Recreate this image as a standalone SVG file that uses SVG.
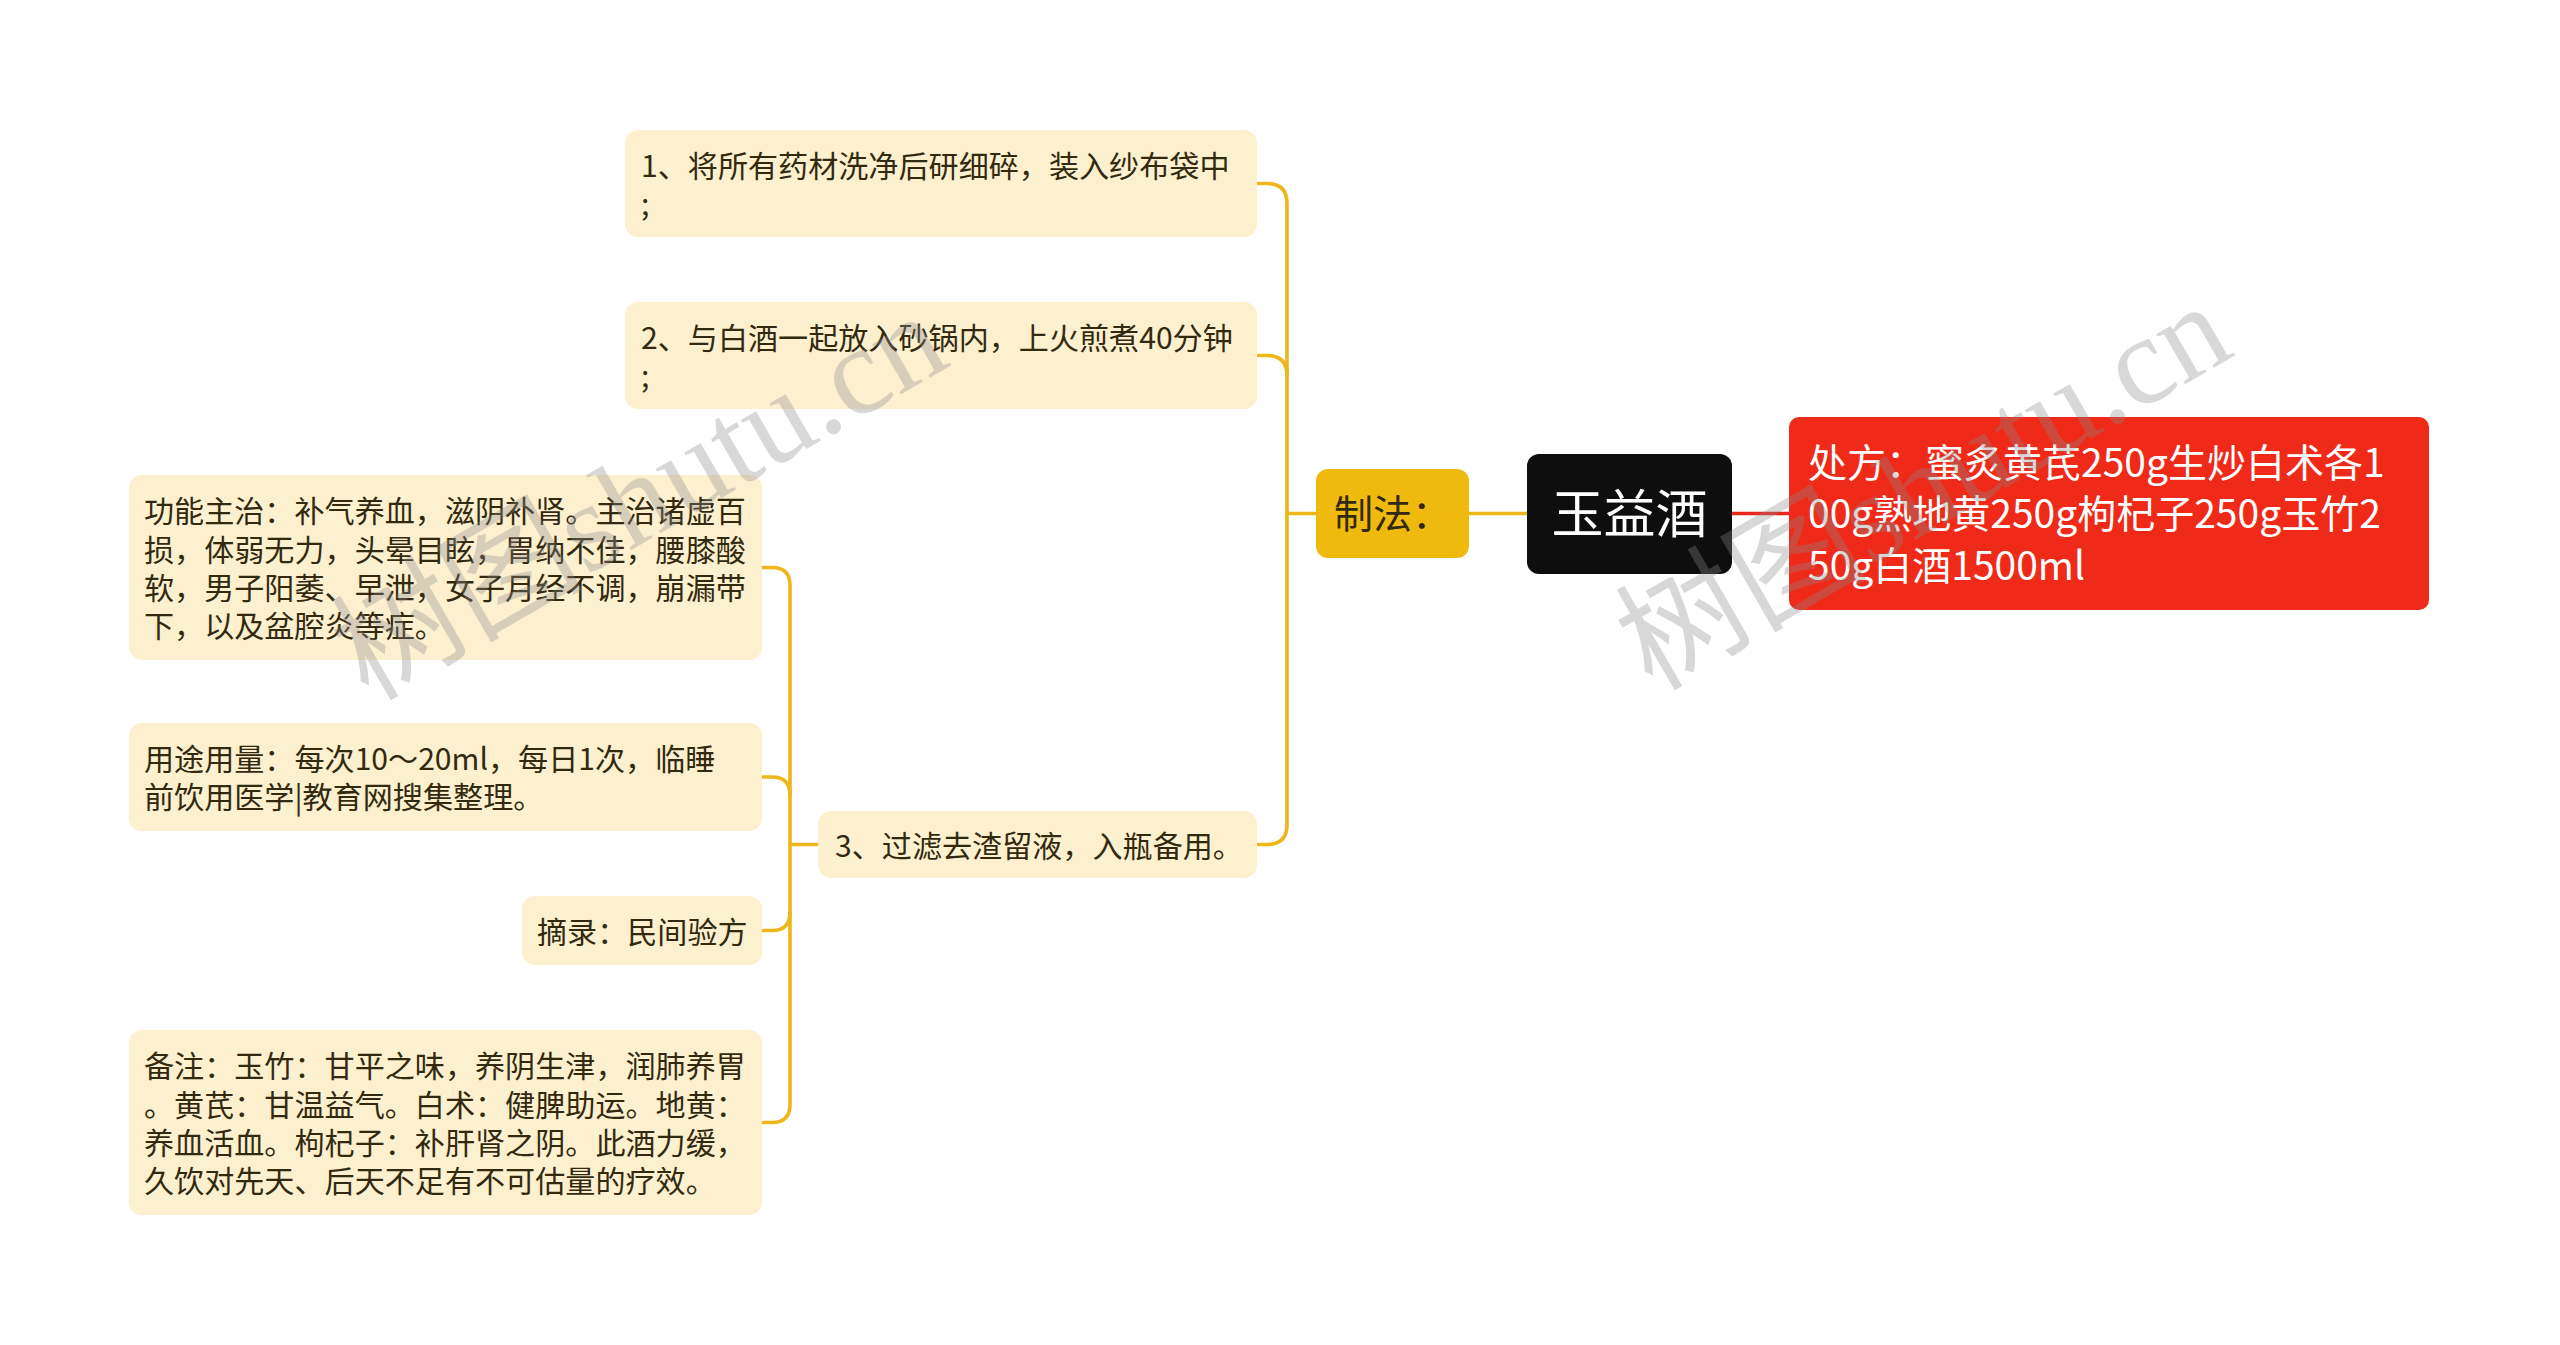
<svg xmlns="http://www.w3.org/2000/svg" width="2560" height="1345" viewBox="0 0 2560 1345">
<style>
.bx{fill:#FCF0CF}
.t{font-family:"Noto Sans CJK SC","Noto Sans",sans-serif;font-size:30.1px;fill:#33290F}
.main{font-family:"Noto Sans CJK SC","Noto Sans",sans-serif;font-size:39px}
.ln{fill:none;stroke:#EDB61A;stroke-width:3.6;stroke-linecap:round}
.wm{font-family:"Liberation Serif","Noto Sans CJK SC",serif;font-size:126px;fill:#8a8a8a;opacity:0.33}
</style>
<rect width="2560" height="1345" fill="#FFFFFF"/>
<g id="connectors">
<path class="ln" d="M1257,183.5 H1267 Q1287,183.5 1287,203.5 V824.5 Q1287,844.5 1267,844.5 H1257"/>
<path class="ln" d="M1257,355.5 H1267 Q1287,355.5 1287,375.5"/>
<path class="ln" d="M1287,513.5 H1316"/>
<path class="ln" d="M1469,513.5 H1527"/>
<path fill="none" stroke="#E8261C" stroke-width="3.4" d="M1732,513.5 H1789"/>
<path class="ln" d="M762,567.5 H772 Q790,567.5 790,585.5 V1104.5 Q790,1122.5 772,1122.5 H762"/>
<path class="ln" d="M762,777 H772 Q790,777 790,795"/>
<path class="ln" d="M762,930.5 H772 Q790,930.5 790,912.5"/>
<path class="ln" d="M790,844.5 H818"/>
</g>
<g id="root">
<rect x="1527" y="454" width="205" height="120" rx="12" fill="#0E0E0E"/>
<text x="1629.5" y="533" text-anchor="middle" font-family="Noto Sans CJK SC,Noto Sans,sans-serif" font-size="52" fill="#FFFFFF">玉益酒</text>
</g>
<g id="zhifa">
<rect x="1316" y="469" width="153" height="89" rx="12" fill="#F0B90D"/>
<text class="main" x="1392.5" y="527.5" text-anchor="middle" fill="#33290F">制法：</text>
</g>
<g id="chufang">
<rect x="1789" y="417" width="640" height="193" rx="10" fill="#F02A18"/>
<text class="main" fill="#FFFFFF"><tspan x="1808" y="477">处方：蜜炙黄芪250g生炒白术各1</tspan><tspan x="1808" y="528.3">00g熟地黄250g枸杞子250g玉竹2</tspan><tspan x="1808" y="579.6">50g白酒1500ml</tspan></text>
</g>
<g id="step1">
<rect class="bx" x="625" y="130" width="632" height="107" rx="13"/>
<text class="t"><tspan x="641" y="176.6">1、将所有药材洗净后研细碎，装入纱布袋中</tspan><tspan x="641" y="214.9">;</tspan></text>
</g>
<g id="step2">
<rect class="bx" x="625" y="302" width="632" height="107" rx="13"/>
<text class="t"><tspan x="641" y="348.6">2、与白酒一起放入砂锅内，上火煎煮40分钟</tspan><tspan x="641" y="386.9">;</tspan></text>
</g>
<g id="step3">
<rect class="bx" x="818" y="811" width="439" height="67" rx="13"/>
<text class="t" x="835" y="856.8">3、过滤去渣留液，入瓶备用。</text>
</g>
<g id="gongneng">
<rect class="bx" x="129" y="475" width="633" height="185" rx="13"/>
<text class="t"><tspan x="144" y="522.3">功能主治：补气养血，滋阴补肾。主治诸虚百</tspan><tspan x="144" y="560.6">损，体弱无力，头晕目眩，胃纳不佳，腰膝酸</tspan><tspan x="144" y="598.9">软，男子阳萎、早泄，女子月经不调，崩漏带</tspan><tspan x="144" y="637.2">下，以及盆腔炎等症。</tspan></text>
</g>
<g id="yongtu">
<rect class="bx" x="129" y="723" width="633" height="108" rx="13"/>
<text class="t"><tspan x="144" y="770.1">用途用量：每次10～20ml，每日1次，临睡</tspan><tspan x="144" y="808.4">前饮用医学|教育网搜集整理。</tspan></text>
</g>
<g id="zhailu">
<rect class="bx" x="522" y="896" width="240" height="69" rx="13"/>
<text class="t" x="537" y="942.8">摘录：民间验方</text>
</g>
<g id="beizhu">
<rect class="bx" x="129" y="1030" width="633" height="185" rx="13"/>
<text class="t"><tspan x="144" y="1077.3">备注：玉竹：甘平之味，养阴生津，润肺养胃</tspan><tspan x="144" y="1115.6">。黄芪：甘温益气。白术：健脾助运。地黄：</tspan><tspan x="144" y="1153.9">养血活血。枸杞子：补肝肾之阴。此酒力缓，</tspan><tspan x="144" y="1192.2">久饮对先天、后天不足有不可估量的疗效。</tspan></text>
</g>
<g id="watermarks">
<text class="wm" transform="translate(368,702) rotate(-30)">树图shutu.cn</text>
<text class="wm" transform="translate(1652,692) rotate(-30)">树图shutu.cn</text>
</g>
</svg>
